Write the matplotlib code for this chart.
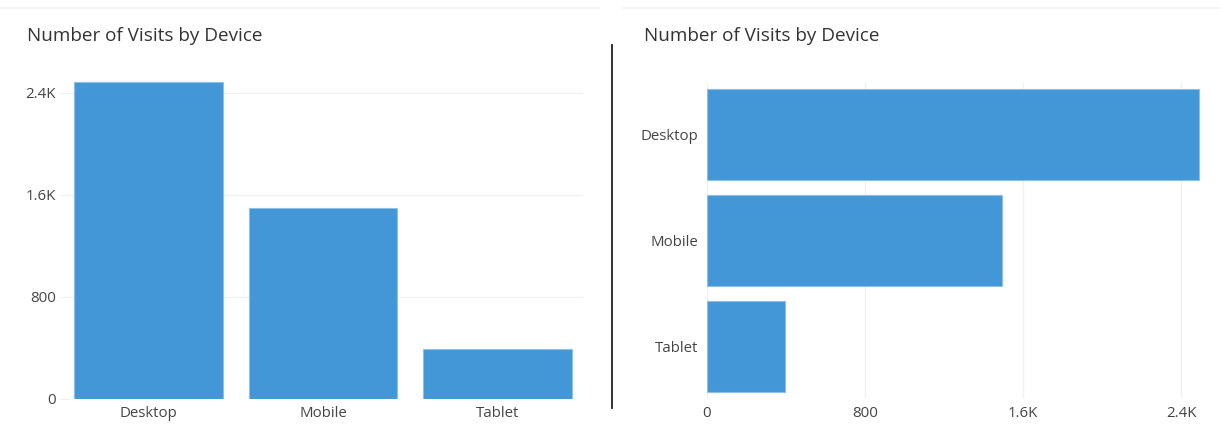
import matplotlib
matplotlib.use("Agg")
import matplotlib.pyplot as plt
from matplotlib.lines import Line2D
from matplotlib.ticker import FuncFormatter

devices = ["Desktop", "Mobile", "Tablet"]
visits = [2490, 1495, 395]
value_ticks = [0, 800, 1600, 2400]
title_text = "Number of Visits by Device"

BAR = "#4397d6"
EDGE = "#8cc0e8"
GRID = "#f0f0f0"
TEXT = "#333333"
TICK = "#444444"

plt.rcParams["font.family"] = ["Open Sans", "DejaVu Sans"]

W, H = 1220, 426
fig = plt.figure(figsize=(W / 100, H / 100), dpi=100)


def px_axes(left, top, right, bottom):
    return fig.add_axes([left / W, 1 - bottom / H, (right - left) / W, (bottom - top) / H])


def kfmt(v, _):
    if v >= 1000:
        return f"{v / 1000:.1f}K"
    return f"{int(v)}"


# vertical bar chart
ax1 = px_axes(70, 67.5, 583, 399)
ax1.bar(range(len(devices)), visits, width=0.85, color=BAR, edgecolor=EDGE, linewidth=0.8, zorder=3)
ax1.set_xlim(-0.45, 2.49)
ax1.set_ylim(0, 2600)
ax1.set_yticks(value_ticks)
ax1.yaxis.set_major_formatter(FuncFormatter(kfmt))
ax1.set_xticks(range(len(devices)))
ax1.set_xticklabels(devices)
ax1.grid(axis="y", color=GRID, linewidth=1, zorder=0)
ax1.tick_params(axis="y", length=7, color=GRID, labelsize=10.8, labelcolor=TICK, pad=3)
ax1.tick_params(axis="x", length=0, labelsize=10.8, labelcolor=TICK, pad=5)
for s in ax1.spines.values():
    s.set_visible(False)

# horizontal bar chart
ax2 = px_axes(707, 83, 1201, 398)
ax2.barh(range(len(devices)), visits, height=0.86, color=BAR, edgecolor=EDGE, linewidth=0.8, zorder=3)
ax2.set_xlim(0, 2500)
ax2.set_ylim(2.486, -0.486)
ax2.set_xticks(value_ticks)
ax2.xaxis.set_major_formatter(FuncFormatter(kfmt))
ax2.set_yticks(range(len(devices)))
ax2.set_yticklabels(devices)
ax2.grid(axis="x", color=GRID, linewidth=1, zorder=0)
ax2.tick_params(axis="x", length=0, labelsize=10.8, labelcolor=TICK, pad=6)
ax2.tick_params(axis="y", length=0, labelsize=10.8, labelcolor=TICK, pad=6)
for s in ax2.spines.values():
    s.set_visible(False)

# panel titles
fig.text(27 / W, 1 - 36 / H, title_text, fontsize=13.6, color=TEXT, va="center", ha="left")
fig.text(644 / W, 1 - 36 / H, title_text, fontsize=13.6, color=TEXT, va="center", ha="left")

# panel frame lines and divider
fig.add_artist(Line2D([0, 600 / W], [1 - 8 / H] * 2, color="#f3f3f3", linewidth=1.2))
fig.add_artist(Line2D([623 / W, 1], [1 - 8 / H] * 2, color="#f3f3f3", linewidth=1.2))
fig.add_artist(Line2D([612 / W] * 2, [1 - 45 / H, 1 - 408 / H], color="#222222", linewidth=1.3))

fig.savefig("out.png", dpi=100, facecolor="white")
